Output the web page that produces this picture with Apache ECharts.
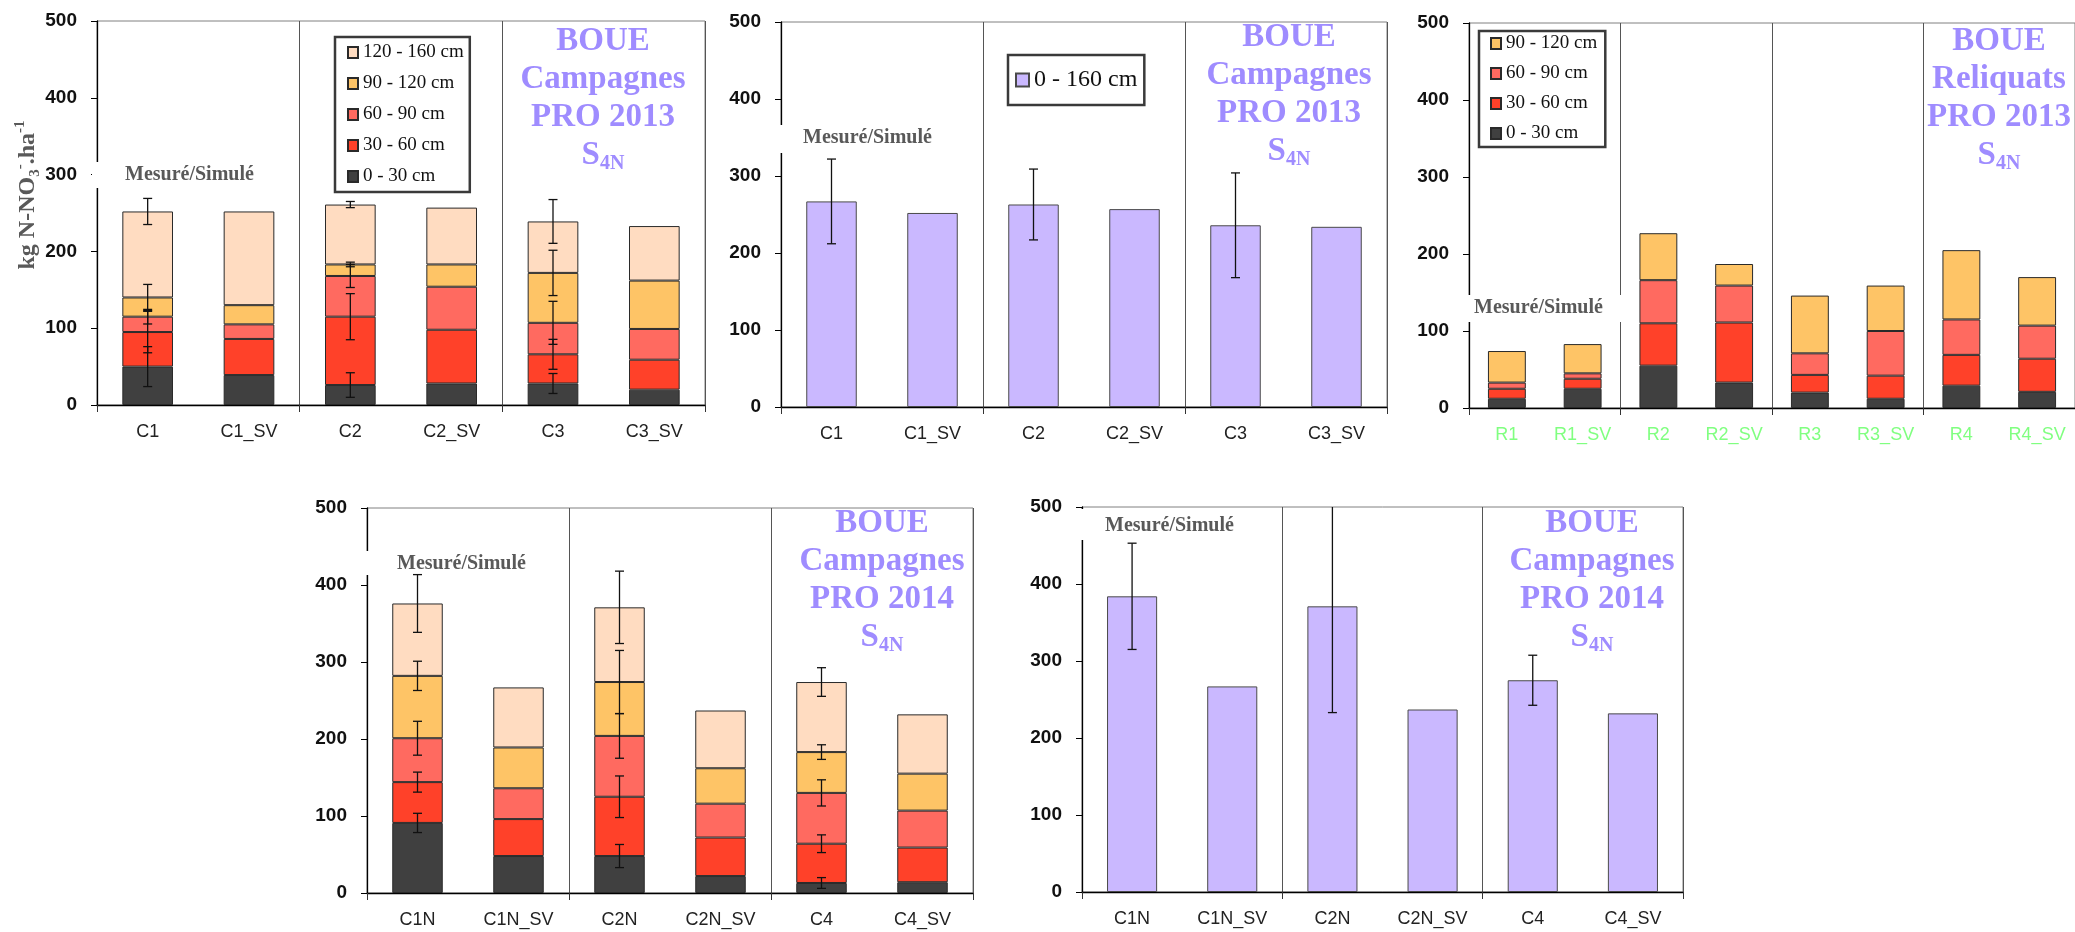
<!DOCTYPE html>
<html><head><meta charset="utf-8">
<script src="https://cdn.jsdelivr.net/npm/echarts@6/dist/echarts.min.js"></script>
<style>html,body{margin:0;padding:0;background:#fff}#c{width:2075px;height:932px}</style>
</head><body><div id="c"></div>
<script>
// ---------- categories ----------
const catsTop = ['C1','C1_SV','C2','C2_SV','C3','C3_SV'];
const catsRel = ['R1','R1_SV','R2','R2_SV','R3','R3_SV','R4','R4_SV'];
const catsBot = ['C1N','C1N_SV','C2N','C2N_SV','C4','C4_SV'];
const layerNames = ['0 - 30 cm','30 - 60 cm','60 - 90 cm','90 - 120 cm','120 - 160 cm'];
const totalName = '0 - 160 cm';
const groupsTop = ['g1','g2','g3'];
const groupsRel = ['g1','g2','g3','g4'];

// ---------- panel 1 : Campagnes 2013, by layer ----------
const p1L0 = [50, 39, 26, 28, 28, 20];
const p1L1 = [45, 47, 89, 70, 38, 39];
const p1L2 = [20, 19, 53, 56, 41, 40];
const p1L3 = [25, 25, 15, 29, 65, 63];
const p1L4 = [112, 122, 78, 74, 67, 71];
const p1E0 = [26, null, 16, null, 13, null];
const p1E1 = [27, null, 30, null, 19.5, null];
const p1E2 = [9.5, null, 15, null, 28, null];
const p1E3 = [17, null, 3, null, 29.5, null];
const p1E4 = [17, null, 4, null, 28.5, null];

// ---------- panel 2 : Campagnes 2013, total ----------
const p2Total = [267, 252, 263, 257, 236, 234];
const p2Err   = [55, null, 46, null, 68, null];

// ---------- panel 3 : Reliquats 2013 ----------
const p3L0 = [12, 25, 55, 33, 20, 12, 29, 21];
const p3L1 = [13, 13, 55, 78, 23, 30, 40, 43];
const p3L2 = [8, 7, 56, 48, 28, 58, 46, 43];
const p3L3 = [41, 38, 61, 28, 75, 59, 90, 63];

// ---------- panel 4 : Campagnes 2014, by layer ----------
const p4L0 = [91, 48, 48, 22, 13, 14];
const p4L1 = [53, 48, 77, 50, 51, 45];
const p4L2 = [57, 40, 79, 44, 66, 48];
const p4L3 = [81, 53, 70, 46, 53, 48];
const p4L4 = [94, 78, 97, 75, 91, 77];
const p4E0 = [12.5, null, 15, null, 7, null];
const p4E1 = [13, null, 27, null, 11.5, null];
const p4E2 = [22, null, 29, null, 17, null];
const p4E3 = [19, null, 41, null, 9.5, null];
const p4E4 = [37.5, null, 47, null, 18.6, null];

// ---------- panel 5 : Campagnes 2014, total ----------
const p5Total = [384, 267, 371, 237, 275, 232];
const p5Err   = [69, null, 138, null, 32.5, null];

// ---------- styles ----------
const layerColors = ['#404040','#FF4129','#FF6A60','#FEC466','#FFDCC1'];
const purple = '#CAB8FF';
const titleColor = '#9F8CFF';
const serif = '"Liberation Serif", "DejaVu Serif", serif';
const sans = '"Liberation Sans", Arial, sans-serif';

const grids = [
  {left: 97,   top: 21,  width: 608, height: 384},
  {left: 781,  top: 22,  width: 606, height: 385},
  {left: 1469, top: 23,  width: 608, height: 385},
  {left: 367,  top: 508, width: 606, height: 385},
  {left: 1082, top: 507, width: 601, height: 385}
];

const xAxes = [], yAxes = [], series = [];

function addPanel(gi, cats, groups, labelColor) {
  xAxes.push({
    type: 'category', gridIndex: gi, data: cats, position: 'bottom',
    axisLine: {lineStyle: {color: '#000', width: 1.3}},
    axisTick: {show: false},
    axisLabel: {color: labelColor, fontFamily: sans, fontSize: 18, margin: 18}
  });
  xAxes.push({
    type: 'category', gridIndex: gi, data: groups, position: 'bottom',
    axisLine: {show: false},
    axisTick: {show: true, length: 7, lineStyle: {color: '#333', width: 1}},
    axisLabel: {show: false},
    splitLine: {show: true, lineStyle: {color: '#555', width: 1}}
  });
  yAxes.push({
    type: 'value', gridIndex: gi, min: 0, max: 500, interval: 100,
    axisLine: {show: true, lineStyle: {color: '#000', width: 1.3}},
    axisTick: {show: true, length: 6, lineStyle: {color: '#000'}},
    axisLabel: {color: '#111', fontFamily: sans, fontWeight: 'bold', fontSize: 19, margin: 20},
    splitLine: {show: false}
  });
}

function errorSeries(gi, data) {
  return {
    type: 'custom', xAxisIndex: gi * 2, yAxisIndex: gi, z: 5, clip: true,
    data: data, encode: {x: 0, y: [1, 2]}, silent: true,
    renderItem: function (params, api) {
      const c = api.value(0);
      const lo = api.coord([c, api.value(1)]);
      const hi = api.coord([c, api.value(2)]);
      const cap = 4.5;
      const st = {stroke: '#111', lineWidth: 1.3};
      return {type: 'group', children: [
        {type: 'line', shape: {x1: lo[0], y1: lo[1], x2: hi[0], y2: hi[1]}, style: st},
        {type: 'line', shape: {x1: lo[0] - cap, y1: lo[1], x2: lo[0] + cap, y2: lo[1]}, style: st},
        {type: 'line', shape: {x1: hi[0] - cap, y1: hi[1], x2: hi[0] + cap, y2: hi[1]}, style: st}
      ]};
    }
  };
}

function stackedPanel(gi, layers, errs) {
  layers.forEach(function (vals, i) {
    series.push({
      type: 'bar', name: layerNames[i], stack: 'p' + gi,
      xAxisIndex: gi * 2, yAxisIndex: gi, barWidth: '50%',
      data: vals,
      itemStyle: {color: layerColors[i], borderColor: '#2a2a2a', borderWidth: 1}
    });
  });
  if (errs) {
    const ed = [];
    const n = layers[0].length;
    for (let j = 0; j < n; j++) {
      let cum = 0;
      for (let i = 0; i < layers.length; i++) {
        cum += layers[i][j];
        const e = errs[i][j];
        if (e != null) ed.push([j, cum - e, cum + e]);
      }
    }
    series.push(errorSeries(gi, ed));
  }
}

function totalPanel(gi, totals, errs) {
  series.push({
    type: 'bar', name: totalName, xAxisIndex: gi * 2, yAxisIndex: gi, barWidth: '50%',
    data: totals,
    itemStyle: {color: purple, borderColor: '#4a4a4a', borderWidth: 1}
  });
  const ed = [];
  totals.forEach(function (v, j) { if (errs[j] != null) ed.push([j, v - errs[j], v + errs[j]]); });
  series.push(errorSeries(gi, ed));
}

addPanel(0, catsTop, groupsTop, '#222');
addPanel(1, catsTop, groupsTop, '#222');
addPanel(2, catsRel, groupsRel, '#80FF80');
addPanel(3, catsBot, groupsTop, '#222');
addPanel(4, catsBot, groupsTop, '#222');

stackedPanel(0, [p1L0, p1L1, p1L2, p1L3, p1L4], [p1E0, p1E1, p1E2, p1E3, p1E4]);
totalPanel(1, p2Total, p2Err);
stackedPanel(2, [p3L0, p3L1, p3L2, p3L3], null);
stackedPanel(3, [p4L0, p4L1, p4L2, p4L3, p4L4], [p4E0, p4E1, p4E2, p4E3, p4E4]);
totalPanel(4, p5Total, p5Err);

// ---------- legends ----------
const legendBase = {
  orient: 'vertical', selectedMode: false, icon: 'rect',
  backgroundColor: '#fff', borderColor: '#3a3a3a', borderWidth: 2.5,
  itemWidth: 10, itemHeight: 11,
  textStyle: {fontFamily: serif, fontSize: 19, color: '#111'}
};
const legends = [
  Object.assign({}, legendBase, {left: 335, top: 37, itemGap: 12, padding: [6, 6, 6, 12],
    data: ['120 - 160 cm', '90 - 120 cm', '60 - 90 cm', '30 - 60 cm', '0 - 30 cm']}),
  Object.assign({}, legendBase, {left: 1008, top: 55, itemGap: 10, padding: [13, 7, 13, 7],
    itemWidth: 13, itemHeight: 13,
    textStyle: {fontFamily: serif, fontSize: 24, color: '#111'},
    data: [totalName]}),
  Object.assign({}, legendBase, {left: 1479, top: 31, itemGap: 11, padding: [3, 8, 4, 11],
    data: ['90 - 120 cm', '60 - 90 cm', '30 - 60 cm', '0 - 30 cm']})
];

// ---------- text graphics ----------
const graphics = [];
function addMesure(rx, ry, rw, rh, tx, ty) {
  graphics.push({type: 'rect', z: 1, silent: true,
    shape: {x: rx, y: ry, width: rw, height: rh}, style: {fill: '#fff'}});
  graphics.push({type: 'text', z: 3, x: tx, y: ty, silent: true,
    style: {text: 'Mesuré/Simulé', fontFamily: serif, fontWeight: 'bold', fontSize: 20,
      fill: '#595959', align: 'left', verticalAlign: 'middle',
      textAlign: 'left', textVerticalAlign: 'middle'}});
}
function addTitle(cx, topY, line2, year) {
  const base = {fontFamily: serif, fontWeight: 'bold', fill: titleColor, color: titleColor};
  graphics.push({type: 'text', z: 3, x: cx, y: topY, silent: true,
    style: Object.assign({}, base, {
      text: 'BOUE\n' + line2 + '\nPRO ' + year + '\n{b|S}{s|4N}',
      fontSize: 33, lineHeight: 38,
      align: 'center', verticalAlign: 'top', textAlign: 'center', textVerticalAlign: 'top',
      rich: {
        b: Object.assign({}, base, {fontSize: 33, lineHeight: 38}),
        s: Object.assign({}, base, {fontSize: 20, lineHeight: 16, verticalAlign: 'bottom'})
      }
    })});
}

addMesure(92, 162, 178, 26, 125, 175);
addMesure(776, 125, 176, 28, 803, 138);
addMesure(1464, 295, 177, 27, 1474, 308);
addMesure(362, 551, 178, 24, 397, 564);
addMesure(1077, 509, 178, 31, 1105, 526);

addTitle(603, 22, 'Campagnes', '2013');
addTitle(1289, 18, 'Campagnes', '2013');
addTitle(1999, 22, 'Reliquats', '2013');
addTitle(882, 504, 'Campagnes', '2014');
addTitle(1592, 504, 'Campagnes', '2014');

(function () {
  const base = {fontFamily: serif, fontWeight: 'bold', fill: '#595959', color: '#595959'};
  graphics.push({type: 'text', z: 3, x: 28, y: 195, rotation: Math.PI / 2, silent: true,
    style: Object.assign({}, base, {
      text: '{a|kg N-NO}{sub|3}{sup|-}{a|.ha}{sup|-1}',
      fontSize: 24, align: 'center', verticalAlign: 'middle',
      textAlign: 'center', textVerticalAlign: 'middle',
      rich: {
        a: Object.assign({}, base, {fontSize: 24, lineHeight: 30}),
        sub: Object.assign({}, base, {fontSize: 15, lineHeight: 14, verticalAlign: 'bottom'}),
        sup: Object.assign({}, base, {fontSize: 15, lineHeight: 15, verticalAlign: 'top'})
      }
    })});
})();

const chart = echarts.init(document.getElementById('c'), null, {renderer: 'canvas'});
chart.setOption({
  backgroundColor: '#fff',
  animation: false,
  grid: grids.map(function (g) {
    return Object.assign({show: true, borderColor: '#808080', borderWidth: 1, backgroundColor: 'transparent', containLabel: false}, g);
  }),
  xAxis: xAxes,
  yAxis: yAxes,
  legend: legends,
  series: series,
  graphic: graphics
});
</script></body></html>
